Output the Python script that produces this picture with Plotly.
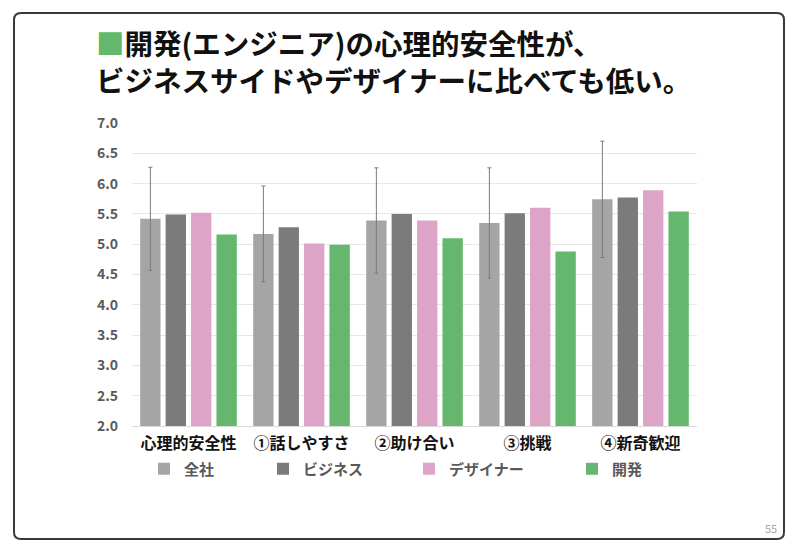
import plotly.graph_objects as go

categories = ["心理的安全性", "①話しやすさ", "②助け合い", "③挑戦", "④新奇歓迎"]
series_names = ["全社", "ビジネス", "デザイナー", "開発"]
zensha = [5.42, 5.17, 5.39, 5.35, 5.74]
business = [5.49, 5.28, 5.50, 5.51, 5.77]
designer = [5.52, 5.01, 5.39, 5.60, 5.89]
kaihatsu = [5.16, 4.99, 5.10, 4.88, 5.54]
zensha_err = [0.85, 0.79, 0.87, 0.91, 0.96]
y_ticks = [2.0, 2.5, 3.0, 3.5, 4.0, 4.5, 5.0, 5.5, 6.0, 6.5, 7.0]

colors = ["#A5A5A5", "#7B7B7B", "#DDA4C7", "#64B76C"]
FONT = "Noto Sans CJK JP"

# page body margin offset (page pixels); figure covers page x 8..792, y 8..544
OFF = 8
FW, FH = 784, 536
# plot area in page pixels
L, R, T, B = 132, 697, 123, 426


def px(x):
    return (x - L) / (R - L)


def py(y):
    return (B - y) / (B - T)


values = [zensha, business, designer, kaihatsu]
legend_ids = ["legend", "legend2", "legend3", "legend4"]
legend_text_x = [189, 308, 454, 617]

fig = go.Figure()
for i, (name, vals) in enumerate(zip(series_names, values)):
    kw = {}
    if i == 0:
        kw["error_y"] = dict(type="data", array=zensha_err, symmetric=True,
                             color="#7A7A7A", thickness=1, width=2)
    fig.add_trace(go.Bar(
        x=categories, y=vals, name=name,
        marker=dict(color=colors[i], line=dict(width=0)),
        legend=legend_ids[i],
        **kw,
    ))

legend_common = dict(
    orientation="h",
    yanchor="middle",
    xanchor="left",
    y=py(469),
    bgcolor="rgba(0,0,0,0)",
    font=dict(family=FONT, size=15, color="#595959", weight="bold"),
    itemwidth=30,
)
layout_legends = {}
for i, lid in enumerate(legend_ids):
    layout_legends[lid] = dict(legend_common, x=px(legend_text_x[i] - 45))

# rounded border
bx0, by0, bx1, by1, r = 14, 13, 784, 539, 7


def pt(x, y):
    return f"{px(x)},{py(y)}"


path = (
    f"M {pt(bx0 + r, by0)} L {pt(bx1 - r, by0)} Q {pt(bx1, by0)} {pt(bx1, by0 + r)} "
    f"L {pt(bx1, by1 - r)} Q {pt(bx1, by1)} {pt(bx1 - r, by1)} "
    f"L {pt(bx0 + r, by1)} Q {pt(bx0, by1)} {pt(bx0, by1 - r)} "
    f"L {pt(bx0, by0 + r)} Q {pt(bx0, by0)} {pt(bx0 + r, by0)} Z"
)

fig.update_layout(
    width=FW, height=FH,
    margin=dict(l=L - OFF, r=(OFF + FW) - R, t=T - OFF, b=(OFF + FH) - B, autoexpand=False),
    paper_bgcolor="white",
    plot_bgcolor="white",
    barmode="group",
    bargap=0.1,
    bargroupgap=0.2,
    font=dict(family=FONT),
    showlegend=True,
    **layout_legends,
    xaxis=dict(
        showgrid=False,
        showline=True, linecolor="#D9D9D9", linewidth=1,
        tickfont=dict(family=FONT, size=16, color="#111111", weight="bold"),
        ticks="", ticklabelstandoff=3,
    ),
    yaxis=dict(
        range=[2, 7],
        tickvals=y_ticks,
        ticktext=[f"{v:.1f}" for v in y_ticks],
        showgrid=True, gridcolor="#E6E6E6", gridwidth=1,
        zeroline=False,
        tickfont=dict(family=FONT, size=14, color="#595959", weight="bold"),
        ticks="", ticklabelstandoff=13,
    ),
    shapes=[dict(type="path", xref="paper", yref="paper", path=path,
                 line=dict(color="#3A3A3A", width=2), layer="below")],
    annotations=[
        dict(xref="paper", yref="paper", x=px(94), y=py(42.8), xanchor="left", yanchor="middle",
             text="<span style='color:#63B86D'>■</span>開発(エンジニア)の心理的安全性が、",
             showarrow=False, font=dict(family=FONT, size=28.5, color="#111111", weight="bold")),
        dict(xref="paper", yref="paper", x=px(94), y=py(79.8), xanchor="left", yanchor="middle",
             text="ビジネスサイドやデザイナーに比べても低い。",
             showarrow=False, font=dict(family=FONT, size=28.5, color="#111111", weight="bold")),
        dict(xref="paper", yref="paper", x=px(779), y=py(528), xanchor="right", yanchor="middle",
             text="55", showarrow=False,
             font=dict(family=FONT, size=11, color="#A6A6A6")),
    ],
)

fig.write_html("out.html")
